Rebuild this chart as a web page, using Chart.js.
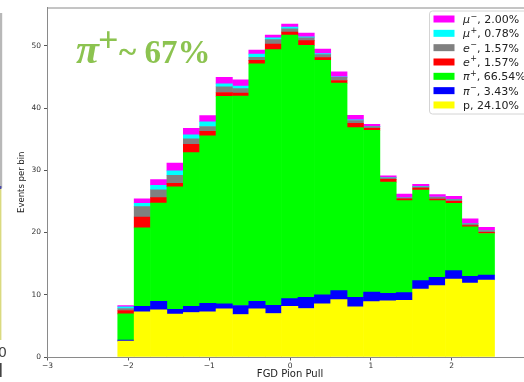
<!DOCTYPE html>
<html>
<head>
<meta charset="utf-8">
<script src="https://cdn.jsdelivr.net/npm/chart.js@4/dist/chart.umd.min.js"></script>
<style>
  html, body { margin: 0; padding: 0; background: #fff; overflow: hidden; }
  #wrap { position: relative; width: 536px; height: 382px; }
</style>
</head>
<body>
<div id="wrap"><canvas id="c" width="536" height="382"></canvas></div>
<script>
// Bin centres of the FGD pion pull histogram (bin width ~0.2026)
const binCenters = [-2.030, -1.827, -1.625, -1.422, -1.219, -1.017, -0.814, -0.611, -0.409, -0.206,
                    -0.004, 0.199, 0.402, 0.604, 0.807, 1.010, 1.212, 1.415, 1.617, 1.820,
                    2.023, 2.225, 2.428];

// Events per bin for each particle species (stacked bottom to top)
const proton  = [2.56, 7.25, 7.57, 6.88, 7.15, 7.25, 7.73, 6.83, 7.73, 6.99, 8.16, 7.79, 8.53, 9.23, 8.05, 8.91, 9.01, 9.12, 10.93, 11.47, 12.53, 11.89, 12.37];
const piMinus = [0.16, 0.91, 1.39, 0.80, 1.01, 1.39, 0.80, 1.44, 1.23, 1.33, 1.23, 1.81, 1.44, 1.44, 1.55, 1.54, 1.23, 1.23, 1.34, 1.33, 1.34, 1.07, 0.80];
const piPlus  = [4.21, 12.59, 15.79, 19.68, 24.69, 26.88, 33.37, 33.65, 38.14, 41.07, 42.34, 40.50, 37.71, 33.33, 27.25, 25.98, 17.87, 14.77, 14.56, 12.32, 10.82, 7.95, 6.67];
const ePlus   = [0.54, 1.75, 0.85, 0.54, 1.34, 0.75, 0.60, 0.50, 0.56, 0.90, 0.50, 0.75, 0.42, 0.43, 0.70, 0.32, 0.42, 0.30, 0.32, 0.27, 0.32, 0.21, 0.21];
const eMinus  = [0.32, 1.66, 1.28, 1.30, 0.85, 0.77, 0.92, 0.70, 0.50, 0.70, 0.50, 0.45, 0.50, 0.50, 0.45, 0.27, 0.27, 0.15, 0.21, 0.26, 0.27, 0.27, 0.27];
const muPlus  = [0.26, 0.54, 0.72, 0.70, 0.64, 0.76, 0.46, 0.40, 0.50, 0.30, 0.28, 0.15, 0.15, 0.10, 0.10, 0.05, 0.05, 0.00, 0.05, 0.05, 0.05, 0.05, 0.05];
const muMinus = [0.22, 0.70, 0.90, 1.25, 1.07, 1.01, 1.06, 1.00, 0.67, 0.45, 0.48, 0.60, 0.74, 0.78, 0.73, 0.32, 0.27, 0.62, 0.32, 0.38, 0.48, 0.75, 0.48];

// Legend entries: symbol, charge superscript, share of sample
const symbols = ['p', 'π', 'π', 'e', 'e', 'μ', 'μ'];
const charges = ['', '−', '+', '+', '−', '+', '−'];
const shares  = ['24.10%', '3.43%', '66.54%', '1.57%', '1.57%', '0.78%', '2.00%'];
const colors  = ['#ffff00', '#0000ff', '#00ff00', '#ff0000', '#808080', '#00ffff', '#ff00ff'];
const series  = [proton, piMinus, piPlus, ePlus, eMinus, muPlus, muMinus];

const xTicks = [-3, -2, -1, 0, 1, 2, 3];
const yTicks = [0, 10, 20, 30, 40, 50];

const supMap = { '+': '⁺', '−': '⁻' };
const datasets = series.map((vals, k) => ({
  label: symbols[k] + (charges[k] ? supMap[charges[k]] : '') + ', ' + shares[k],
  data: binCenters.map((x, i) => ({ x: x, y: vals[i] })),
  backgroundColor: colors[k],
  borderWidth: 0,
  barPercentage: 1.0,
  categoryPercentage: 1.0
}));

const minus = v => (v < 0 ? '−' + Math.abs(v) : String(v));

// Decorations: headline, axis titles, legend box, left margin strip, top/right spines
const decor = {
  id: 'decor',
  afterDatasetsDraw(chart) {
    const a = chart.chartArea, ctx = chart.ctx;
    ctx.save();
    ctx.strokeStyle = '#8a8a8a';
    ctx.lineWidth = 1;
    ctx.beginPath();
    ctx.moveTo(a.left, a.top + 0.5);
    ctx.lineTo(a.right, a.top + 0.5);
    ctx.moveTo(a.right - 0.5, a.top);
    ctx.lineTo(a.right - 0.5, a.bottom);
    ctx.stroke();
    ctx.restore();
  },
  afterDraw(chart) {
    const ctx = chart.ctx;
    const area = chart.chartArea;
    ctx.save();

    // margin strip on the far left
    ctx.fillStyle = '#b8b8b8';
    ctx.fillRect(0, 13, 2.2, 175);
    ctx.fillStyle = '#dada80';
    ctx.fillRect(0, 188, 1.4, 152);
    ctx.fillStyle = '#4a4aa8';
    ctx.fillRect(0, 186, 1.4, 3);
    ctx.fillStyle = '#444';
    ctx.font = '14px "DejaVu Sans"';
    ctx.textBaseline = 'alphabetic';
    ctx.textAlign = 'left';
    ctx.fillText('0', -2, 357);
    ctx.fillRect(0, 363, 1.6, 14);

    // headline
    ctx.fillStyle = '#8cc350';
    ctx.font = 'italic bold 42px "Liberation Serif"';
    ctx.fillText('π', 76, 63);
    ctx.font = 'bold 36px "Liberation Serif"';
    ctx.fillText('+', 98, 52);
    ctx.font = 'bold 33px "Liberation Serif"';
    ctx.fillText('~ 67%', 119, 63);

    // axis titles
    ctx.fillStyle = '#222';
    ctx.font = '10px "DejaVu Sans"';
    ctx.textAlign = 'center';
    ctx.textBaseline = 'middle';
    ctx.fillText('FGD Pion Pull', (area.left + area.right) / 2, 374.5);
    ctx.save();
    ctx.translate(22, (area.top + area.bottom) / 2);
    ctx.rotate(-Math.PI / 2);
    ctx.font = '8.5px "DejaVu Sans"';
    ctx.fillText('Events per bin', 0, 0);
    ctx.restore();

    // legend
    const bx = 429.5, by = 11, bw = 98, bh = 103, r = 3;
    ctx.beginPath();
    ctx.moveTo(bx + r, by);
    ctx.lineTo(bx + bw - r, by);
    ctx.arcTo(bx + bw, by, bx + bw, by + r, r);
    ctx.lineTo(bx + bw, by + bh - r);
    ctx.arcTo(bx + bw, by + bh, bx + bw - r, by + bh, r);
    ctx.lineTo(bx + r, by + bh);
    ctx.arcTo(bx, by + bh, bx, by + bh - r, r);
    ctx.lineTo(bx, by + r);
    ctx.arcTo(bx, by, bx + r, by, r);
    ctx.closePath();
    ctx.fillStyle = 'rgba(255,255,255,0.85)';
    ctx.fill();
    ctx.strokeStyle = '#d4d4d4';
    ctx.lineWidth = 1;
    ctx.stroke();

    ctx.textAlign = 'left';
    ctx.textBaseline = 'alphabetic';
    const n = chart.data.datasets.length;
    for (let row = 0; row < n; row++) {
      const k = n - 1 - row;
      const cy = 19 + row * 14.33;
      ctx.fillStyle = chart.data.datasets[k].backgroundColor;
      ctx.fillRect(433.5, cy - 3.5, 21, 7);
      ctx.fillStyle = '#222';
      let tx = 463;
      const base = cy + 4;
      if (charges[k]) {
        ctx.font = 'italic 11px "DejaVu Sans"';
        ctx.fillText(symbols[k], tx, base);
        tx += ctx.measureText(symbols[k]).width + 0.5;
        ctx.font = '8px "DejaVu Sans"';
        ctx.fillText(charges[k], tx, base - 4.5);
        tx += ctx.measureText(charges[k]).width;
      } else {
        ctx.font = '11px "DejaVu Sans"';
        ctx.fillText(symbols[k], tx, base);
        tx += ctx.measureText(symbols[k]).width;
      }
      ctx.font = '11px "DejaVu Sans"';
      ctx.fillText(', ' + shares[k], tx, base);
    }
    ctx.restore();
  }
};

new Chart(document.getElementById('c'), {
  type: 'bar',
  data: { datasets: datasets },
  options: {
    responsive: false,
    animation: false,
    devicePixelRatio: 1,
    layout: { padding: { left: 0, right: 3.4, top: 6, bottom: 0 } },
    plugins: { legend: { display: false }, tooltip: { enabled: false } },
    scales: {
      x: {
        type: 'linear',
        stacked: true,
        min: -3, max: 3,
        offset: false,
        afterFit: s => { s.height = 25; },
        afterBuildTicks: s => { s.ticks = xTicks.map(v => ({ value: v })); },
        ticks: {
          callback: v => minus(v),
          font: { family: 'DejaVu Sans', size: 7.5 },
          color: '#333',
          padding: 1,
          maxRotation: 0,
          autoSkip: false
        },
        grid: { display: true, offset: false, drawOnChartArea: false, drawTicks: true, tickLength: 3.5, color: '#555' },
        border: { display: true, color: '#8a8a8a', width: 1 }
      },
      y: {
        stacked: true,
        min: 0, max: 56.16,
        afterFit: s => { s.width = 47.5; },
        afterBuildTicks: s => { s.ticks = yTicks.map(v => ({ value: v })); },
        ticks: {
          font: { family: 'DejaVu Sans', size: 7.5 },
          color: '#333',
          padding: 3
        },
        grid: { display: true, offset: false, drawOnChartArea: false, drawTicks: true, tickLength: 3.5, color: '#555' },
        border: { display: true, color: '#8a8a8a', width: 1 }
      }
    }
  },
  plugins: [decor]
});
</script>
</body>
</html>
